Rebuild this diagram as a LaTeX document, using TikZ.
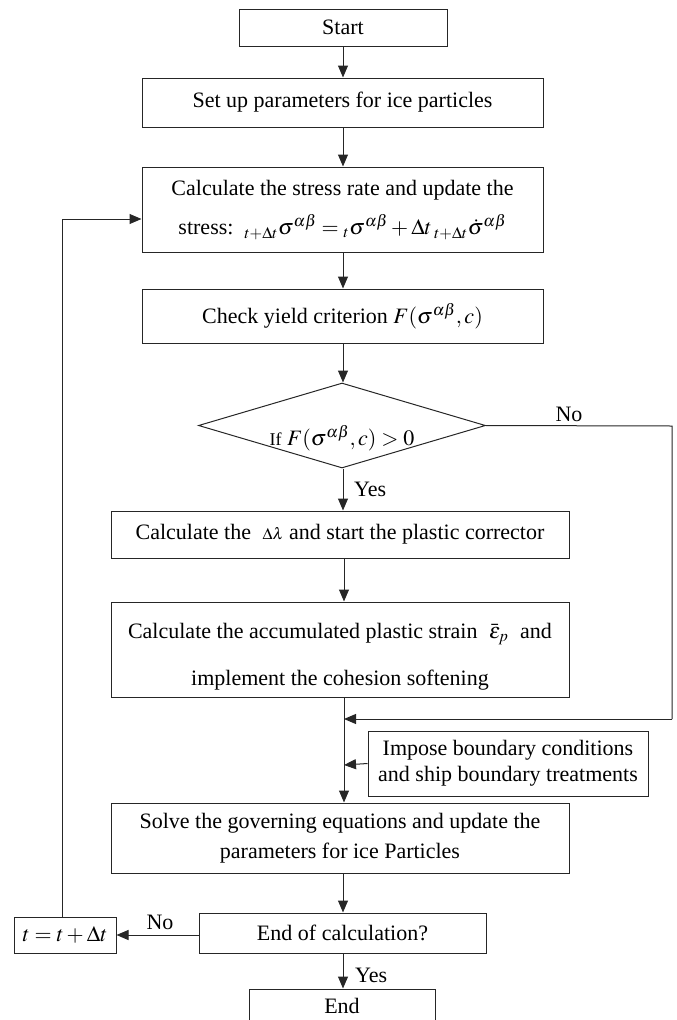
\documentclass[tikz,border=0pt]{standalone}
\usepackage{mathptmx}
\usepackage{fontspec}
\setmainfont{Liberation Serif}
\usetikzlibrary{arrows.meta,shapes.geometric,calc}
\tikzset{
  box/.style={draw=black!85, line width=1pt, rectangle, inner sep=0pt, align=center, font=\fontsize{22}{26}\selectfont},
  conn/.style={draw=black!85, line width=1pt},
  arr/.style={conn, -{Triangle[length=12pt,width=10pt]}},
  lbl/.style={font=\fontsize{22}{26}\selectfont, inner sep=0pt},
}
\begin{document}
\begin{tikzpicture}[x=1pt,y=-1pt]
\useasboundingbox (0,0) rectangle (677,1020);
\clip (0,0) rectangle (677,1020);
\coordinate (axis) at (343,0);
\node[box, minimum width=208pt, minimum height=37pt] (start) at (343,27.5) {Start};
\node[box, minimum width=401pt, minimum height=49pt] (setup) at (342.5,102.5) {Set up parameters for ice particles};
\node[box, minimum width=401pt, minimum height=85pt] (stress) at (342.5,209.5) {};
\node[lbl] at (342.5,190) {Calculate the stress rate and update the};
\node[lbl] at (342.5,227) {stress: \,$ {}_{t+\Delta t}\sigma^{\alpha\beta} = {}_{t}\sigma^{\alpha\beta} + \Delta t\, {}_{t+\Delta t}\dot{\sigma}^{\alpha\beta}$};
\node[box, minimum width=401pt, minimum height=54pt] (check) at (342.5,316) {Check yield criterion $F(\sigma^{\alpha\beta},c)$};
\node[draw=black!85, line width=1pt, diamond, inner sep=0pt, minimum width=287pt, minimum height=85pt] (dia) at (342,425.5) {};
\node[inner sep=0pt] at (342,438) {{\fontsize{18}{20}\selectfont If} \;{\fontsize{22}{26}\selectfont $F(\sigma^{\alpha\beta},c)>0$}};
\node[box, minimum width=458pt, minimum height=47pt] (dl) at (340,534.5) {Calculate the \;$\scriptstyle\Delta\lambda$ and start the plastic corrector};
\node[box, minimum width=458pt, minimum height=95pt] (acc) at (340,649.5) {};
\node[lbl] at (340,634) {Calculate the accumulated plastic strain \;$\bar{\varepsilon}_{p}$\; and};
\node[lbl] at (340,680) {implement the cohesion softening};
\node[box, minimum width=280pt, minimum height=65pt] (imp) at (508,763.5) {Impose boundary conditions\\and ship boundary treatments};
\node[box, minimum width=458pt, minimum height=70pt] (solve) at (340,838) {Solve the governing equations and update the\\[4pt]parameters for ice Particles};
\node[box, minimum width=287pt, minimum height=40pt] (endc) at (342.5,933) {End of calculation?};
\node[box, minimum width=102pt, minimum height=36pt] (tt) at (65,935) {$t=t+\Delta t$};
\node[box, minimum width=186pt, minimum height=60pt] (endb) at (342,1019) {};
\node[lbl] at (342,1006) {End};
\coordinate (nr) at (672,426);
\coordinate (nj) at (344,719);
\coordinate (ij) at (344,765);
\coordinate (fb) at (62,219);
% connectors
\draw[arr] (start.south -| axis) -- (setup.north -| axis);
\draw[arr] (setup.south -| axis) -- (stress.north -| axis);
\draw[arr] (stress.south -| axis) -- (check.north -| axis);
\draw[arr] (check.south -| axis) -- (dia.north -| axis);
\draw[arr] (dia.south -| axis) -- (dl.north -| axis);
\node[lbl, anchor=west] at (354,489) {Yes};
\draw[arr] (dl.south -| nj) -- (acc.north -| nj);
\draw[arr] (acc.south -| nj) -- (solve.north -| nj);
\draw[conn] (dia.east) -- (nr) -- (nr |- nj);
\draw[arr] (nr |- nj) -- (nj);
\node[lbl] at (569,414) {No};
\draw[arr] (imp.west) -- (ij);
\draw[arr] (solve.south -| axis) -- (endc.north -| axis);
\draw[arr] (endc.west |- tt.east) -- (tt.east);
\node[lbl] at (160,922) {No};
\draw[conn] (tt.north -| fb) -- (fb);
\draw[arr] (fb) -- (stress.west |- fb);
\draw[arr] (endc.south -| axis) -- (endb.north -| axis);
\node[lbl, anchor=west] at (355,975) {Yes};
\end{tikzpicture}
\end{document}
